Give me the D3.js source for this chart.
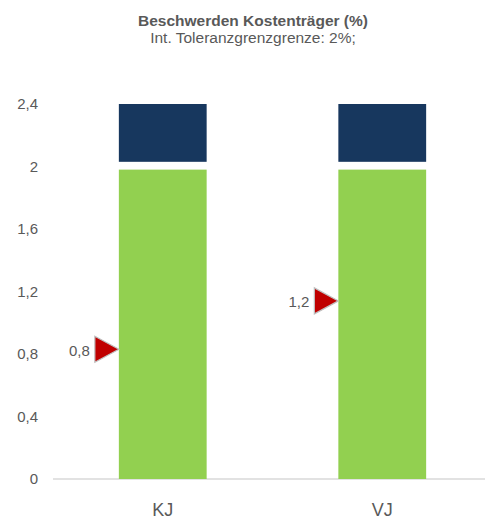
<!DOCTYPE html>
<html>
<head>
<meta charset="utf-8">
<script src="https://cdn.jsdelivr.net/npm/d3@7"></script>
<style>
  body { margin: 0; background: #fff; }
  text { font-family: "Liberation Sans", Arial, sans-serif; fill: #595959; }
</style>
</head>
<body>
<svg id="chart"></svg>
<script>
// chart data
const categories = ['KJ', 'VJ'];
const greenValues = [1.98, 1.98];      // lower segment
const navyBase = [2.03, 2.03];         // upper segment start
const navyTop = [2.4, 2.4];            // upper segment end
const markerValues = [0.83, 1.14];
const markerLabels = ['0,8', '1,2'];
const yTicks = [0, 0.4, 0.8, 1.2, 1.6, 2, 2.4];

const width = 485;
const height = 519;

const svg = d3.select('#chart')
  .attr('width', width)
  .attr('height', height);

// Title
svg.append('text')
  .attr('x', 253)
  .attr('y', 26)
  .style('text-anchor', 'middle')
  .style('font-size', '15.5px')
  .style('font-weight', 'bold')
  .text('Beschwerden Kostenträger (%)');

svg.append('text')
  .attr('x', 253)
  .attr('y', 43)
  .style('text-anchor', 'middle')
  .style('font-size', '15.5px')
  .text('Int. Toleranzgrenzgrenze: 2%;');

// Scales
const xScale = d3.scalePoint()
  .domain(categories)
  .range([53, 492])
  .padding(0.5);

const step = xScale.step();
const barWidth = step * 0.4;

const yScale = d3.scaleLinear()
  .domain([0, 2.4])
  .range([479, 104]);

// Y axis labels (no line)
const yAxis = svg.append('g')
  .attr('transform', 'translate(38, 0)')
  .call(d3.axisLeft(yScale)
    .tickValues(yTicks)
    .tickSize(0)
    .tickPadding(0)
    .tickFormat((d) => d3.format('~g')(d).replace('.', ',')));
yAxis.select('.domain').remove();
yAxis.selectAll('text')
  .style('font-size', '15px')
  .style('font-family', '"Liberation Sans", Arial, sans-serif')
  .attr('fill', '#595959');

// Baseline
svg.append('line')
  .attr('x1', 53)
  .attr('x2', width)
  .attr('y1', yScale(0))
  .attr('y2', yScale(0))
  .attr('stroke', '#d9d9d9')
  .attr('stroke-width', 1.5);

// Bars
svg.selectAll('.green')
  .data(categories)
  .enter()
  .append('rect')
  .attr('x', (d) => xScale(d) - barWidth / 2)
  .attr('width', barWidth)
  .attr('y', (d, i) => yScale(greenValues[i]))
  .attr('height', (d, i) => yScale(0) - yScale(greenValues[i]))
  .attr('fill', '#92D050');

svg.selectAll('.navy')
  .data(categories)
  .enter()
  .append('rect')
  .attr('x', (d) => xScale(d) - barWidth / 2)
  .attr('width', barWidth)
  .attr('y', (d, i) => yScale(navyTop[i]))
  .attr('height', (d, i) => yScale(navyBase[i]) - yScale(navyTop[i]))
  .attr('fill', '#17375E');

// Markers
const markers = svg.selectAll('.marker')
  .data(categories)
  .enter()
  .append('g')
  .attr('transform', (d, i) => `translate(${xScale(d) - barWidth / 2 - 12}, ${yScale(markerValues[i])})`);

markers.append('path')
  .attr('d', 'M-12,-13 L12,0 L-12,13 Z')
  .attr('fill', '#C00000')
  .attr('stroke', '#bfbfbf')
  .attr('stroke-width', 1.2);

markers.append('text')
  .attr('x', -17)
  .attr('y', 1)
  .attr('dy', '0.35em')
  .style('text-anchor', 'end')
  .style('font-size', '15px')
  .text((d, i) => markerLabels[i]);

// Category labels
svg.selectAll('.cat')
  .data(categories)
  .enter()
  .append('text')
  .attr('x', (d) => xScale(d))
  .attr('y', 516)
  .style('text-anchor', 'middle')
  .style('font-size', '18px')
  .text((d) => d);
</script>
</body>
</html>
